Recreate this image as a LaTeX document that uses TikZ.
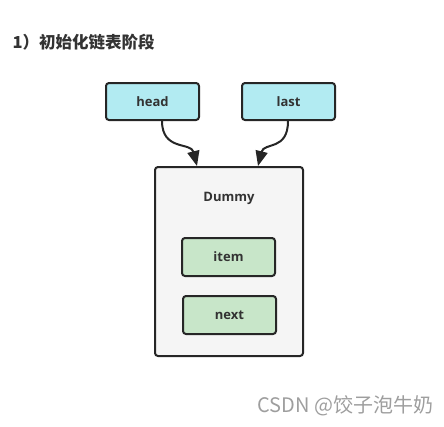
\documentclass[tikz,border=0pt]{standalone}
\usepackage{fontspec}
\setmainfont{Open Sans}
\newfontfamily\cjk{Noto Sans CJK SC}
\usetikzlibrary{arrows.meta}
\definecolor{headcol}{HTML}{B2EBF2}
\definecolor{itemcol}{HTML}{C8E6C9}
\definecolor{dummycol}{HTML}{F5F5F5}
\definecolor{linecol}{HTML}{333333}
\begin{document}
\begin{tikzpicture}[
            x=1pt, y=-1pt,
            ptr/.style={
                draw=black!85,
                line width=2pt,
                fill=headcol,
                rounded corners=3pt,
                minimum width=93pt,
                minimum height=37pt,
                font=\fontsize{13}{15}\selectfont\bfseries,
                text=linecol
            },
            box/.style={
                draw=black!85,
                line width=2pt,
                fill=dummycol,
                rounded corners=3pt,
                minimum width=148pt,
                minimum height=189pt
            },
            field/.style={
                draw=black!85,
                line width=2pt,
                fill=itemcol,
                rounded corners=3pt,
                minimum width=93pt,
                minimum height=38pt,
                font=\fontsize{13}{15}\selectfont\bfseries,
                text=linecol
            },
            arrow/.style={-{Triangle[length=15pt,width=12pt]}, line width=2pt, draw=black!85}
        ]
        \useasboundingbox (0,0) rectangle (444,426);

        % Title
        \node[anchor=west, font=\cjk\fontsize{16.5}{19}\selectfont\bfseries, text=linecol] (stage) at (9,42) {1）初始化链表阶段};

        % Pointers
        \node[ptr] (head) at (152.5,101.5) {head};
        \node[ptr] (last) at (288.5,101.5) {last};

        % Dummy node
        \node[box] (dummy) at (229,261.5) {};
        \node[font=\fontsize{13}{15}\selectfont\bfseries, text=linecol] (dlabel) at (229,198) {Dummy};
        \node[field] (item) at (228.5,257) {item};
        \node[field] (next) at (229.5,315) {next};

        % Connecting arrows
        \coordinate (hin) at ([xshift=-32pt]dummy.north);
        \coordinate (lin) at ([xshift=29pt]dummy.north);
        \draw[arrow] ([xshift=9.5pt]head.south) .. controls +(0,30) and +(-6,-24) .. (hin);
        \draw[arrow] ([xshift=-0.5pt]last.south) .. controls +(0,30) and +(6,-24) .. (lin);

        % Watermark
        \node[anchor=west, font=\cjk\fontsize{20}{23}\selectfont, text=black!38] (mark) at (254,406) {CSDN @饺子泡牛奶};

        \end{tikzpicture}
\end{document}
